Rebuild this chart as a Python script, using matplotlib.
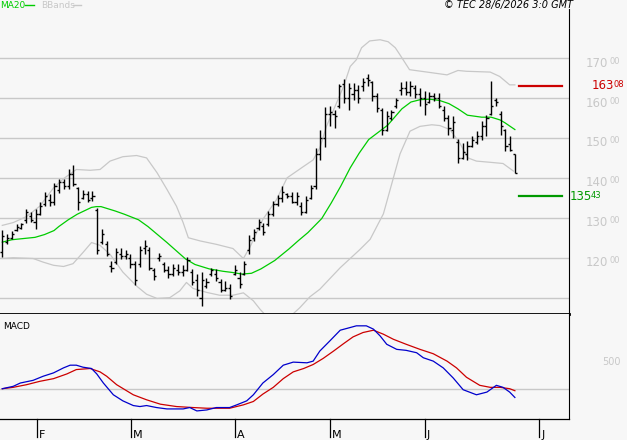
import matplotlib
matplotlib.use("Agg")
import matplotlib.pyplot as plt
from matplotlib.lines import Line2D
import matplotlib.transforms as mtransforms

# ---- data ----
highs = [126.9, 125.85, 126.7, 128.35, 128.8, 132.3, 131.4, 132.1, 133.9, 136.4,
         135.9, 138.8, 139.6, 139.8, 142.1, 143.1, 137.8, 136.9, 136.7, 136.7,
         132.5, 127.1, 124.2, 119.2, 122.5, 122.5, 121.85, 121.0, 119.2, 122.9,
         124.35, 122.8, 117.5, 121.1, 118.9, 117.9, 118.35, 118.35, 118.1, 120.2,
         117.1, 115.85, 116.4, 114.8, 117.5, 117.1, 114.6, 114.2, 113.3, 118.1,
         116.4, 119.2, 125.6, 127.1, 129.7, 128.7, 131.7, 134.2, 135.6, 137.9,
         136.2, 136.4, 136.4, 133.9, 135.4, 138.1, 147.5, 152.1, 157.7, 157.9,
         157.1, 163.6, 164.7, 163.7, 163.7, 163.3, 165.0, 166.0, 164.2, 161.2,
         157.5, 156.7, 157.1, 160.0, 163.9, 164.2, 164.2, 163.3, 162.5, 161.7,
         161.5, 161.2, 161.2, 157.9, 155.8, 155.6, 149.7, 148.7, 149.2, 150.6,
         151.7, 154.2, 155.8, 164.3, 160.0, 156.8, 152.2, 150.4, 146.1]
lows = [120.3, 123.35, 124.6, 126.7, 127.1, 128.8, 128.9, 127.3, 130.6, 132.9,
        132.9, 133.1, 136.1, 137.3, 137.1, 137.9, 131.9, 134.8, 133.9, 134.2,
        120.85, 123.35, 120.4, 116.3, 118.35, 119.6, 119.6, 117.3, 113.1, 117.7,
        120.85, 116.85, 114.4, 119.2, 116.4, 115.0, 115.3, 115.6, 115.4, 116.7,
        113.1, 110.4, 107.9, 112.5, 115.3, 114.2, 111.4, 111.7, 109.6, 115.6,
        112.5, 115.6, 121.0, 124.3, 126.9, 125.6, 127.9, 130.4, 132.9, 133.9,
        135.0, 133.6, 133.1, 130.6, 131.2, 134.6, 137.1, 144.4, 147.7, 152.9,
        152.5, 157.5, 158.7, 157.1, 159.6, 158.7, 161.7, 162.9, 159.2, 156.4,
        150.8, 151.7, 154.6, 157.5, 160.8, 160.8, 160.4, 160.0, 158.1, 155.8,
        158.7, 159.2, 157.5, 154.3, 150.8, 150.0, 143.6, 144.7, 144.6, 147.7,
        148.5, 149.6, 150.4, 155.8, 158.1, 150.8, 146.7, 146.7, 141.1]
opens = [121.5, 124.0, 125.0, 127.0, 127.5, 129.5, 130.5, 129.0, 131.0, 133.5,
         134.5, 134.0, 137.0, 139.0, 138.0, 141.0, 137.5, 135.0, 136.0, 135.0,
         132.0, 124.0, 123.5, 118.0, 119.0, 121.0, 120.5, 120.0, 118.5, 118.5,
         122.5, 122.0, 117.0, 120.0, 118.5, 117.0, 116.0, 117.0, 116.5, 117.0,
         116.5, 114.5, 110.0, 113.0, 116.0, 116.0, 114.0, 112.0, 112.5, 116.0,
         115.0, 116.0, 122.0, 125.0, 127.5, 128.0, 128.5, 131.0, 133.5, 135.0,
         136.0, 135.5, 134.0, 133.0, 131.5, 135.0, 138.0, 146.0, 150.0, 156.0,
         156.0, 158.0, 163.5, 160.0, 161.0, 162.0, 163.0, 165.0, 164.0, 160.5,
         157.0, 152.0, 155.0, 158.0, 162.0, 162.5, 161.5, 162.5, 161.0, 160.0,
         159.0, 160.5, 160.0, 157.0, 155.0, 152.0, 149.0, 145.0, 146.0, 148.0,
         149.0, 150.5, 153.0, 156.0, 159.5, 156.0, 152.0, 148.5, 146.0]
closes = [125.5, 125.0, 126.0, 127.8, 128.5, 131.5, 129.5, 131.0, 133.0, 135.5,
          134.0, 138.0, 139.0, 138.0, 141.0, 138.5, 134.0, 136.0, 134.5, 135.5,
          122.0, 126.0, 121.0, 117.5, 121.5, 120.5, 121.0, 118.5, 114.5, 122.0,
          123.0, 117.5, 115.5, 120.5, 117.0, 116.0, 117.5, 116.5, 117.0, 119.5,
          114.0, 112.0, 114.5, 114.0, 117.0, 115.0, 112.0, 112.5, 110.5, 117.0,
          113.5, 118.5, 124.5, 126.5, 129.0, 126.5, 131.0, 133.5, 135.0, 136.5,
          135.5, 134.0, 135.5, 131.5, 134.5, 137.5, 146.0, 150.0, 156.0, 156.5,
          155.5, 163.0, 160.0, 162.5, 162.0, 160.0, 164.0, 164.5, 160.5, 157.5,
          152.0, 155.5, 156.5, 159.5, 162.5, 161.5, 163.0, 161.0, 160.0, 158.5,
          160.5, 160.0, 158.0, 155.0, 152.5, 154.0, 145.0, 146.5, 148.0, 149.5,
          150.5, 153.0, 155.0, 158.0, 159.0, 153.0, 148.0, 147.0, 141.2]

# MA20 sampled along the day axis
ma_day = [0, 2, 6.9, 8.9, 10.9, 11.9, 13.9, 15.8, 18.8, 19.8, 20.8, 23.8, 25.7, 28.7,
          30.7, 32.7, 34.7, 36.6, 38.6, 40.6, 43.6, 46.5, 48.5, 50.5, 52.5, 54.5,
          57.4, 60.4, 62.4, 64.4, 67.3, 69.3, 71.3, 73.3, 75.2, 77.2, 79.2, 81.2,
          84.2, 86.1, 88.1, 90.1, 92.1, 94.1, 96.0, 98.0, 101.0, 103.0, 104.9,
          105.9, 108]
ma_val = [123.9, 124.5, 125.1, 125.8, 126.8, 127.8, 129.5, 130.9, 132.6, 132.8,
          132.8, 131.7, 130.9, 129.5, 127.8, 125.8, 123.8, 121.8, 119.7, 118.3,
          117.2, 116.6, 116.3, 115.9, 116.1, 117.2, 119.3, 122.2, 124.3, 126.3,
          129.8, 133.7, 137.9, 142.5, 146.2, 149.6, 151.4, 153.2, 157.3, 159.0,
          159.6, 159.7, 159.4, 158.6, 157.3, 155.7, 155.2, 155.2, 154.5, 153.8,
          152.1]

up_day = [0, 2.3, 5.1, 7.9, 10.8, 12.9, 15.6, 18.5, 20.6, 22.7, 25.4, 28.3, 30.4,
          32.6, 34.7, 36.7, 38.1, 39.2, 41.7, 45.1, 48.6, 50.8, 52.2, 54.9, 57.8,
          60.0, 63.4, 65.5, 66.9, 68.3, 70.4, 71.9, 73.3, 74.6, 75.7, 77.4, 79.6,
          81.3, 82.8, 83.8, 85.8, 90.1, 93.7, 96.0, 97.8, 102.8, 104.8, 106.9, 108]
up_val = [128.1, 128.8, 130.3, 132.9, 137.5, 139.8, 142.1, 141.9, 142.1, 144.2,
          145.3, 145.6, 145.0, 141.3, 137.1, 132.9, 128.8, 125.0, 124.2, 123.35,
          122.3, 119.8, 122.7, 129.6, 134.6, 140.0, 142.8, 144.5, 147.5, 152.9,
          158.7, 162.9, 167.9, 169.6, 172.6, 174.3, 174.6, 174.1, 172.6, 170.8,
          167.1, 166.4, 165.8, 166.9, 166.7, 166.5, 165.4, 163.3, 163.3]
lo_day = [0, 2.3, 6.5, 8.6, 10.8, 12.9, 14.9, 17.0, 18.8, 20.6, 22.7, 25.4, 28.3,
          30.4, 32.6, 35.3, 37.4, 38.8, 40.2, 43.1, 45.8, 48.6, 50.8, 52.9, 54.3,
          56.3, 59.5, 62.7, 64.8, 66.9, 71.2, 75.3, 77.5, 80.3, 82.4, 83.8, 85.9,
          88.0, 90.5, 92.2, 94.3, 96.4, 98.1, 99.9, 102.8, 105.5, 107.7]
lo_val = [119.8, 120.0, 119.8, 118.9, 118.1, 117.8, 118.5, 121.3, 123.8, 123.1,
          120.85, 116.4, 112.9, 110.85, 109.8, 110.0, 111.7, 113.8, 112.3, 111.3,
          110.6, 110.6, 111.2, 109.2, 107.1, 104.5, 104.0, 107.5, 110.2, 112.1,
          117.5, 122.0, 124.6, 131.0, 140.0, 146.0, 151.7, 152.9, 153.3, 153.1,
          152.1, 148.7, 145.0, 144.2, 143.9, 143.6, 141.7]

macd_day = [0, 2.3, 3.8, 6.5, 8.6, 10.8, 12.9, 14.3, 15.6, 17.0, 18.8, 19.9, 21.3,
            23.4, 25.4, 27.6, 29.0, 30.4, 32.5, 34.7, 38.1, 39.5, 41.0, 43.1, 45.1,
            47.9, 49.4, 51.5, 52.9, 54.9, 57.1, 59.2, 61.3, 64.2, 65.5, 66.9, 69.0,
            71.2, 73.3, 74.6, 76.7, 78.2, 79.6, 81.0, 83.1, 85.1, 87.3, 88.7, 90.8,
            92.9, 95.0, 97.1, 99.9, 102.1, 104.1, 105.5, 106.9, 108]
macd_val = [0, 38, 91, 134, 199, 253, 333, 376, 376, 344, 323, 237, 91,
            -97, -194, -269, -285, -269, -301, -323, -323, -301, -355, -339, -301,
            -301, -258, -194, -97, 91, 226, 376, 425, 414, 441, 602, 763,
            935, 978, 1005, 1005, 952, 844, 710, 629, 613, 575, 495, 441,
            333, 172, -16, -97, -54, 54, 22, -54, -140]
sig_day = [0, 2.3, 5.1, 7.9, 10.8, 13.6, 15.6, 18.5, 20.6, 22.0, 24.1, 27.6, 30.4,
           33.3, 36.7, 40.2, 43.1, 47.9, 50.8, 52.9, 54.9, 57.1, 59.2, 61.3, 63.5,
           65.5, 67.6, 69.8, 71.9, 73.9, 76.0, 78.2, 80.3, 82.4, 85.1, 88.0, 90.8,
           93.7, 95.7, 97.8, 100.6, 102.8, 104.9, 106.9, 108]
sig_val = [0, 22, 64, 118, 161, 236, 306, 323, 269, 199, 64, -97, -177,
           -247, -285, -301, -312, -312, -258, -204, -86, 22, 161, 269, 323,
           387, 484, 602, 720, 828, 898, 935, 871, 790, 710, 629, 559,
           441, 333, 183, 54, 22, 22, 0, -32]

resistance = 163.08
support = 135.43
price_ticks = [170, 160, 150, 140, 130, 120]
grid_levels = [110, 120, 130, 140, 150, 160, 170]
months = ["F", "M", "A", "M", "J", "J"]
month_day = [7.3, 27.1, 49.0, 69.0, 89.0, 113.1]

bg = "#f7f7f7"
grid_c = "#c8c8c8"

W, H = 627, 440
fig = plt.figure(figsize=(W / 100, H / 100), dpi=100, facecolor=bg)


def frac(x0, y0, x1, y1):
    return [x0 / W, 1 - y1 / H, (x1 - x0) / W, (y1 - y0) / H]


ax = fig.add_axes(frac(0, 9, 569, 314))
ax2 = fig.add_axes(frac(0, 314, 569, 419))
xlim = (-0.48, 119.4)

for a in (ax, ax2):
    a.set_facecolor(bg)
    a.set_xlim(*xlim)
    a.tick_params(length=0, labelleft=False, labelbottom=False)
    for s in a.spines.values():
        s.set_visible(False)

# ---- price panel ----
ax.set_ylim(105.9, 182.3)
for g in grid_levels:
    ax.axhline(g, color=grid_c, lw=1.0, zorder=1)

ax.plot(up_day, up_val, color=grid_c, lw=0.9, zorder=2)
ax.plot(lo_day, lo_val, color=grid_c, lw=0.9, zorder=2)
ax.plot(ma_day, ma_val, color="#00cc00", lw=0.9, zorder=3)

days = list(range(len(highs)))
ax.vlines(days, lows, highs, colors="black", lw=1.0, zorder=4)
ax.hlines(opens, [d - 0.45 for d in days], days, colors="black", lw=1.0, zorder=4)
ax.hlines(closes, days, [d + 0.45 for d in days], colors="black", lw=1.0, zorder=4)

ax.axhline(resistance, xmin=0.912, xmax=0.988, color="#cc0000", lw=1.6, zorder=5)
ax.axhline(support, xmin=0.912, xmax=0.988, color="#009900", lw=1.6, zorder=5)

ax.spines["right"].set_visible(True)
ax.spines["right"].set_linewidth(0.8)
ax.spines["bottom"].set_visible(True)
ax.spines["bottom"].set_linewidth(2.0)

tr = mtransforms.blended_transform_factory(ax.transAxes, ax.transData)
for v in price_ticks:
    ax.annotate(f"{v}", xy=(1, v), xycoords=tr, xytext=(17, -5),
                textcoords="offset pixels", ha="left", va="center",
                fontsize=8.5, color=grid_c, annotation_clip=False)
    ax.annotate("00", xy=(1, v), xycoords=tr, xytext=(41, -3),
                textcoords="offset pixels", ha="left", va="center",
                fontsize=6, color=grid_c, annotation_clip=False)

r_int, r_dec = f"{resistance:.2f}".split(".")
ax.annotate(r_int, xy=(1, resistance), xycoords=tr, xytext=(23, 0),
            textcoords="offset pixels", ha="left", va="center",
            fontsize=8.5, color="#cc0000", annotation_clip=False)
ax.annotate(r_dec, xy=(1, resistance), xycoords=tr, xytext=(45, 1),
            textcoords="offset pixels", ha="left", va="center",
            fontsize=6, color="#cc0000", annotation_clip=False)
s_int, s_dec = f"{support:.2f}".split(".")
ax.annotate(s_int, xy=(1, support), xycoords=tr, xytext=(1, 0),
            textcoords="offset pixels", ha="left", va="center",
            fontsize=8.5, color="#009900", annotation_clip=False)
ax.annotate(s_dec, xy=(1, support), xycoords=tr, xytext=(22, 1),
            textcoords="offset pixels", ha="left", va="center",
            fontsize=6, color="#009900", annotation_clip=False)

# legend + stamp at the top
fig.text(0 / W, 1 - 5 / H, "MA20", color="#00cc00", fontsize=6.5, va="center", ha="left")
fig.add_artist(Line2D([25 / W, 34 / W], [1 - 5 / H, 1 - 5 / H], color="#00cc00", lw=1))
fig.text(41 / W, 1 - 5 / H, "BBands", color=grid_c, fontsize=6.5, va="center", ha="left")
fig.add_artist(Line2D([73 / W, 81 / W], [1 - 5 / H, 1 - 5 / H], color=grid_c, lw=1))
fig.text(573 / W, 1 - 5 / H, "\u00a9 TEC 28/6/2026 3:0 GMT", color="black",
         fontsize=7, style="italic", va="center", ha="right")

# ---- MACD panel ----
ax2.set_ylim(-484, 1194)
ax2.axhline(0, color=grid_c, lw=1.0, zorder=1)
ax2.plot(macd_day, macd_val, color="#0000cc", lw=0.9, zorder=3)
ax2.plot(sig_day, sig_val, color="#cc0000", lw=0.9, zorder=2)
ax2.spines["right"].set_visible(True)
ax2.spines["right"].set_linewidth(0.8)
ax2.spines["bottom"].set_visible(True)
ax2.spines["bottom"].set_linewidth(0.9)
ax2.text(0.005, 0.88, "MACD", transform=ax2.transAxes, fontsize=6.5,
         ha="left", va="center", color="black")
tr2 = mtransforms.blended_transform_factory(ax2.transAxes, ax2.transData)
ax2.annotate("500", xy=(1, 500), xycoords=tr2, xytext=(33, -5),
             textcoords="offset pixels", ha="left", va="center",
             fontsize=7, color=grid_c, annotation_clip=False)

trx = mtransforms.blended_transform_factory(ax2.transData, ax2.transAxes)
for m, d in zip(months, month_day):
    ax2.plot([d, d], [0, -0.175], color="black", lw=0.9, transform=trx, clip_on=False)
    ax2.annotate(m, xy=(d, 0), xycoords=trx, xytext=(2, -19),
                 textcoords="offset pixels", ha="left", va="baseline",
                 fontsize=8, color="black", annotation_clip=False)

fig.savefig("out.png", dpi=100, facecolor=bg)
